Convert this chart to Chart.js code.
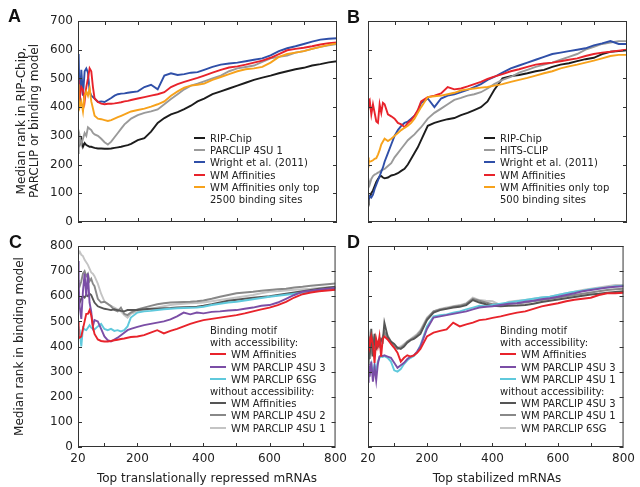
<!DOCTYPE html>
<html lang="en">
<head>
<meta charset="UTF-8">
<title>Median rank of top mRNAs</title>
<script src="https://cdn.jsdelivr.net/npm/chart.js"></script>
<style>
    body { margin: 0; width: 640px; height: 487px; position: relative; background: #fff; overflow: hidden;
           font-family: "DejaVu Sans", sans-serif; color: #222; }
    canvas { position: absolute; }
    .letter { position: absolute; font-family: "Liberation Sans", Arial, sans-serif; font-weight: bold; font-size: 18px; line-height: 18px; color: #111; }
    .ytitle { position: absolute; font-size: 12px; line-height: 13px; text-align: center; white-space: nowrap; transform: rotate(-90deg); }
    .xtitle { position: absolute; font-size: 12px; line-height: 14px; text-align: center; white-space: nowrap; }
    .legend { position: absolute; font-size: 10px; line-height: 12.2px; white-space: nowrap; }
    .legend i { display: inline-block; height: 2px; vertical-align: middle; margin-right: 5px; position: relative; top: -1px; }
</style>
</head>
<body>
<canvas id="cA" width="352" height="240" style="left:0;top:0"></canvas>
<canvas id="cB" width="295" height="240" style="left:345px;top:0"></canvas>
<canvas id="cC" width="352" height="257" style="left:0;top:230px"></canvas>
<canvas id="cD" width="295" height="257" style="left:345px;top:230px"></canvas>

<div class="letter" style="left:8px;top:7px">A</div>
<div class="letter" style="left:347px;top:8px">B</div>
<div class="letter" style="left:9px;top:233px">C</div>
<div class="letter" style="left:347px;top:233px">D</div>

<div class="ytitle" style="left:-72px;top:108px;width:200px">Median rank in RIP-Chip,<br>PARCLIP or binding model</div>
<div class="ytitle" style="left:-81px;top:340px;width:200px">Median rank in binding model</div>
<div class="xtitle" style="left:57px;top:471px;width:300px">Top translationally repressed mRNAs</div>
<div class="xtitle" style="left:347px;top:471px;width:300px">Top stabilized mRNAs</div>

<div class="legend" style="left:194px;top:133px">
    <div><i style="width:11px;background:#1c1c1c"></i>RIP-Chip</div>
    <div><i style="width:11px;background:#9a9a9a"></i>PARCLIP 4SU 1</div>
    <div><i style="width:11px;background:#2f4fa8"></i>Wright et al. (2011)</div>
    <div><i style="width:11px;background:#e8232b"></i>WM Affinities</div>
    <div><i style="width:11px;background:#f7a21b"></i>WM Affinities only top</div>
    <div style="padding-left:16px">2500 binding sites</div>
</div>
<div class="legend" style="left:484px;top:133px">
    <div><i style="width:11px;background:#1c1c1c"></i>RIP-Chip</div>
    <div><i style="width:11px;background:#9a9a9a"></i>HITS-CLIP</div>
    <div><i style="width:11px;background:#2f4fa8"></i>Wright et al. (2011)</div>
    <div><i style="width:11px;background:#e8232b"></i>WM Affinities</div>
    <div><i style="width:11px;background:#f7a21b"></i>WM Affinities only top</div>
    <div style="padding-left:16px">500 binding sites</div>
</div>
<div class="legend" style="left:210px;top:325px">
    <div>Binding motif</div>
    <div>with accessibility:</div>
    <div><i style="width:16px;background:#e8232b"></i>WM Affinities</div>
    <div><i style="width:16px;background:#7b4ea6"></i>WM PARCLIP 4SU 3</div>
    <div><i style="width:16px;background:#5fc9dc"></i>WM PARCLIP 6SG</div>
    <div>without accessibility:</div>
    <div><i style="width:16px;background:#555555"></i>WM Affinities</div>
    <div><i style="width:16px;background:#888888"></i>WM PARCLIP 4SU 2</div>
    <div><i style="width:16px;background:#c4c4c4"></i>WM PARCLIP 4SU 1</div>
</div>
<div class="legend" style="left:500px;top:325px">
    <div>Binding motif</div>
    <div>with accessibility:</div>
    <div><i style="width:16px;background:#e8232b"></i>WM Affinities</div>
    <div><i style="width:16px;background:#7b4ea6"></i>WM PARCLIP 4SU 3</div>
    <div><i style="width:16px;background:#5fc9dc"></i>WM PARCLIP 4SU 1</div>
    <div>without accessibility:</div>
    <div><i style="width:16px;background:#555555"></i>WM PARCLIP 4SU 3</div>
    <div><i style="width:16px;background:#888888"></i>WM PARCLIP 4SU 1</div>
    <div><i style="width:16px;background:#c4c4c4"></i>WM PARCLIP 6SG</div>
</div>

<script>
// number of top mRNAs (x) shared by every series
const topN = [20,22,25,30,35,40,45,50,55,60, 65,70,80,90,100,110,120,130,140,150,
              160,170,180,200,220,240,260,280,300,320, 340,360,380,400,425,450,475,500,525,550,
              575,600,625,650,675,700,725,750,775,800];

const xTickLabels = [20,200,400,600,800];
const xTickMarks = [100,200,300,400,500,600,700];
const yTicksAB = [0,100,200,300,400,500,600,700];
const yTicksCD = [0,100,200,300,400,500,600,700,800];

// A: translationally repressed
const aRip     = [300,280,270,288,262,275,268,265,262,262, 260,258,256,256,255,255,256,258,260,262,
                  265,268,272,285,292,315,345,362,375,383, 393,405,420,430,445,455,465,475,485,495,
                  503,510,518,525,532,537,545,550,556,560];
const aParclip = [240,255,300,270,290,310,300,330,325,320, 310,305,300,290,278,270,280,295,310,325,
                  340,350,360,372,380,385,392,410,428,445, 462,475,482,490,500,510,525,535,540,545,
                  558,570,575,580,590,595,603,610,615,620];
const aWright  = [500,585,410,530,440,525,535,520,455,440, 435,430,418,420,418,425,432,440,445,447,
                  448,450,452,455,470,478,462,510,518,512, 515,520,522,530,540,548,552,555,560,565,
                  570,580,595,605,612,620,628,635,638,640];
const aWm      = [495,440,430,470,460,420,470,500,535,525, 470,430,418,412,410,412,412,413,415,417,
                  420,422,425,430,435,440,445,452,470,480, 488,495,502,510,520,530,538,542,548,555,
                  562,572,585,598,603,607,612,618,623,625];
const aWmTop   = [480,430,400,420,385,440,455,440,465,420, 395,370,360,358,355,352,355,360,365,370,
                  375,380,385,390,395,402,410,420,440,455, 468,475,478,482,495,505,515,525,532,535,
                  540,555,575,585,590,595,603,610,617,622];

// B: stabilized
const bRip     = [90,80,85,100,110,125,140,150,158,160, 155,152,155,162,165,170,178,185,200,220,
                  240,260,285,335,345,352,358,362,372,380, 390,400,420,460,500,508,512,518,525,530,
                  540,548,553,560,567,572,585,593,595,598];
const bHits    = [140,145,130,150,160,165,168,172,175,180, 182,185,195,205,225,240,255,270,285,295,
                  305,318,330,360,380,395,410,425,432,440, 445,452,465,480,495,505,520,530,540,548,
                  555,565,575,585,600,610,620,625,630,630];
const bWright  = [95,80,90,85,95,115,130,145,160,175, 190,210,240,270,300,320,335,345,350,360,
                  370,385,415,430,400,430,440,445,452,460, 470,480,495,505,520,535,545,555,565,575,
                  585,590,595,600,605,615,622,630,620,620];
const bWm      = [430,420,425,375,410,380,350,345,410,380, 415,410,375,368,360,345,340,330,345,355,
                  370,390,420,435,440,448,470,462,465,472, 480,488,498,506,515,525,532,540,548,552,
                  555,560,565,570,578,585,590,593,597,600];
const bWmTop   = [225,215,210,212,215,220,222,235,250,270, 280,290,282,290,300,310,320,328,335,345,
                  360,380,400,435,438,440,445,450,458,462, 465,468,470,475,480,488,495,502,510,518,
                  525,535,542,548,555,562,570,578,582,582];

// C: translationally repressed, binding models
const cRed     = [500,440,435,440,470,500,530,530,545,525, 480,450,428,422,420,420,422,425,427,430,
                  432,435,438,440,445,455,465,452,462,470, 480,490,498,505,510,515,520,525,532,540,
                  548,555,565,578,595,608,615,620,623,626];
const cPurple  = [740,650,560,510,620,690,600,690,575,540, 480,505,500,470,440,425,420,428,435,445,
                  455,465,470,478,485,490,495,500,508,520, 535,528,535,532,538,540,543,545,550,555,
                  562,565,575,590,605,618,622,626,630,633];
const cCyan    = [480,470,465,400,475,468,465,475,485,475, 470,468,480,490,470,465,470,462,465,460,
                  465,480,515,535,540,542,545,548,550,552, 553,554,555,558,565,570,575,578,583,588,
                  593,598,602,606,610,614,620,625,628,632];
const cDark    = [600,590,575,590,600,595,605,600,610,605, 590,575,560,555,550,548,545,548,545,542,
                  540,545,545,545,548,550,550,552,553,555, 556,557,558,562,568,575,582,586,590,594,
                  597,600,605,610,615,620,625,630,634,638];
const cMid     = [665,650,640,660,690,700,680,690,660,670, 650,640,590,575,578,570,560,545,540,555,
                  530,525,535,548,555,562,568,572,575,576, 577,578,580,583,590,598,605,612,615,618,
                  622,625,628,630,635,638,642,645,648,651];
const cLight   = [770,775,778,765,760,745,735,725,710,695, 690,680,650,610,580,568,562,555,548,540,
                  525,515,530,540,545,550,555,560,565,568, 570,572,573,575,580,585,590,595,600,605,
                  612,618,620,623,626,628,630,633,636,638];

// D: stabilized, binding models
const dRed     = [440,435,400,440,410,335,430,400,440,360, 430,440,428,410,395,375,340,355,365,360,
                  365,375,390,440,455,462,468,495,480,488, 495,505,508,514,520,528,535,540,550,560,
                  566,572,580,586,590,594,605,612,612,614];
const dPurple  = [260,330,280,340,260,320,265,330,360,365, 362,365,360,355,335,315,325,335,350,360,
                  365,380,400,470,515,520,525,530,535,540, 548,555,558,560,565,570,572,578,582,588,
                  592,598,605,612,620,625,630,635,638,640];
const dCyan    = [280,310,300,330,290,330,300,340,355,360, 358,362,355,340,305,300,310,330,345,355,
                  362,378,405,480,520,525,528,535,540,548, 555,562,560,565,570,575,580,585,590,595,
                  598,605,612,618,622,628,632,635,640,642];
const dDark    = [330,420,350,470,360,450,390,400,410,430, 420,495,440,420,410,395,390,400,415,425,
                  430,440,450,505,535,545,550,555,558,565, 585,575,568,562,560,562,563,565,570,577,
                  582,587,592,597,602,607,610,614,617,620];
const dMid     = [350,380,420,380,430,400,420,410,400,420, 430,460,430,415,400,390,395,405,420,428,
                  435,445,460,510,540,548,552,558,562,570, 590,582,575,568,568,570,572,575,580,585,
                  590,595,600,605,610,615,620,625,628,630];
const dLight   = [360,400,440,400,420,440,410,420,430,410, 440,450,445,420,400,395,400,410,420,430,
                  440,450,465,515,540,550,555,560,565,572, 595,585,582,580,565,578,582,585,590,595,
                  598,605,612,618,625,630,635,640,645,645];

const BLACK = '#1c1c1c', GRAY = '#9a9a9a', BLUE = '#2f4fa8', RED = '#e8232b', ORANGE = '#f7a21b';
const PURPLE = '#7b4ea6', CYAN = '#5fc9dc', DARK = '#555555', MID = '#888888', LIGHT = '#c4c4c4';

// box round the plot and inward tick marks on all four sides
const frame = {
    id: 'frame',
    afterDatasetsDraw(chart, args, opts) {
        const { ctx, chartArea: a, scales: { x, y } } = chart;
        ctx.save();
        ctx.strokeStyle = '#333';
        ctx.lineWidth = 1;
        ctx.strokeRect(a.left + 0.5, a.top + 0.5, a.right - a.left - 1, a.bottom - a.top - 1);
        ctx.beginPath();
        xTickMarks.forEach(v => {
            const p = Math.round(x.getPixelForValue(v)) + 0.5;
            ctx.moveTo(p, a.top); ctx.lineTo(p, a.top + 4);
            ctx.moveTo(p, a.bottom); ctx.lineTo(p, a.bottom - 4);
        });
        opts.yMarks.forEach(v => {
            const p = Math.round(y.getPixelForValue(v)) + 0.5;
            ctx.moveTo(a.left, p); ctx.lineTo(a.left + 4, p);
            ctx.moveTo(a.right, p); ctx.lineTo(a.right - 4, p);
        });
        ctx.stroke();
        ctx.restore();
    }
};

function panel(id, o) {
    const n = o.series.length;
    new Chart(document.getElementById(id), {
        type: 'line',
        data: {
            datasets: o.series.map((s, i) => ({
                data: s[0].map((v, k) => ({ x: topN[k], y: v })),
                borderColor: s[1],
                borderWidth: 1.9,
                pointRadius: 0,
                tension: 0,
                order: n - i
            }))
        },
        options: {
            responsive: false,
            animation: false,
            layout: { padding: o.pad },
            plugins: { legend: { display: false }, tooltip: { enabled: false }, frame: { yMarks: o.yTicks } },
            scales: {
                x: {
                    type: 'linear', min: 20, max: 800,
                    grid: { display: false, drawTicks: false }, border: { display: false },
                    afterBuildTicks: s => { s.ticks = xTickLabels.map(v => ({ value: v })); },
                    afterFit: s => { s.height = o.xh; },
                    ticks: { display: o.xLabels, autoSkip: false, maxRotation: 0, padding: 5, color: '#222',
                             font: { family: 'DejaVu Sans', size: 12 } }
                },
                y: {
                    type: 'linear', min: 0, max: o.yTicks[o.yTicks.length - 1],
                    grid: { display: false, drawTicks: false }, border: { display: false },
                    afterBuildTicks: s => { s.ticks = o.yTicks.map(v => ({ value: v })); },
                    afterFit: s => { s.width = o.yw; },
                    ticks: { display: o.yLabels, autoSkip: false, padding: 5, color: '#222',
                             font: { family: 'DejaVu Sans', size: 12 } }
                }
            }
        },
        plugins: [frame]
    });
}

panel('cA', { pad: { top: 21, right: 15, left: 0, bottom: 0 }, yw: 78, xh: 18, xLabels: false, yLabels: true,
    yTicks: yTicksAB,
    series: [[aRip, BLACK], [aParclip, GRAY], [aWright, BLUE], [aWm, RED], [aWmTop, ORANGE]] });
panel('cB', { pad: { top: 21, right: 13, left: 0, bottom: 0 }, yw: 23, xh: 18, xLabels: false, yLabels: false,
    yTicks: yTicksAB,
    series: [[bRip, BLACK], [bHits, GRAY], [bWright, BLUE], [bWm, RED], [bWmTop, ORANGE]] });
panel('cC', { pad: { top: 16, right: 15, left: 0, bottom: 0 }, yw: 78, xh: 40, xLabels: true, yLabels: true,
    yTicks: yTicksCD,
    series: [[cLight, LIGHT], [cMid, MID], [cDark, DARK], [cCyan, CYAN], [cPurple, PURPLE], [cRed, RED]] });
panel('cD', { pad: { top: 16, right: 13, left: 0, bottom: 0 }, yw: 23, xh: 40, xLabels: true, yLabels: false,
    yTicks: yTicksCD,
    series: [[dLight, LIGHT], [dMid, MID], [dDark, DARK], [dCyan, CYAN], [dPurple, PURPLE], [dRed, RED]] });
</script>
</body>
</html>
